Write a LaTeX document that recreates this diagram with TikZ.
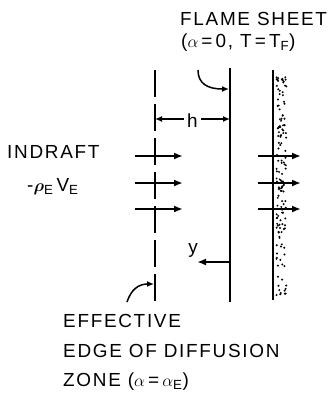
\documentclass[tikz,border=0pt]{standalone}
\usepackage{amsmath}
\usepackage{bm}
\usepackage{fontspec}
\setmainfont{Liberation Sans}[LetterSpace=9]
\usetikzlibrary{arrows.meta}

\begin{document}
\begin{tikzpicture}[x=1bp,y=-1bp,
  every node/.style={font=\fontsize{19}{22}\selectfont, inner sep=0pt},
  label/.style={anchor=base west},
  sheet/.style={line width=2.3bp},
  flow/.style={line width=1.8bp, -{Latex[length=9bp,width=7bp]}},
  leader/.style={line width=1.5bp, -{Latex[length=7bp,width=6bp]}},
  dim/.style={line width=1.5bp, {Latex[length=7bp,width=6bp]}-{Latex[length=7bp,width=6bp]}},
]
\useasboundingbox (0,0) rectangle (333,397);

% the three vertical lines
\coordinate (edge top) at (155,70);
\coordinate (edge bot) at (155,305);
\coordinate (flame top) at (230,68);
\coordinate (flame bot) at (230,302);
\coordinate (wall top) at (273,70);
\coordinate (wall bot) at (273,300);
\draw[sheet, dash pattern=on 27bp off 7bp] (edge top) -- (edge bot);
\draw[sheet] (flame top) -- (flame bot);
\draw[sheet] (wall top) -- (wall bot);

% stippled porous wall
\pgfmathsetseed{11}
\foreach \i in {1,...,140}
  \fill ({276.5+10*rnd},{76+220*rnd}) circle (1.1bp);

% indraft arrows
\foreach \yy in {156,183,209} {
  \coordinate (in a) at (135,\yy);
  \coordinate (in b) at (183,\yy);
  \coordinate (out a) at (258,\yy);
  \coordinate (out b) at (301,\yy);
  \draw[flow] (in a) -- (in b);
  \draw[flow] (out a) -- (out b);
}

% distance h
\coordinate (h left) at (155,119);
\coordinate (h right) at (230,119);
\draw[dim] (h left) -- node[fill=white, inner xsep=3bp, yshift=-2bp] (hlab) {h} (h right);

% y axis
\coordinate (y start) at (230,262);
\coordinate (y end) at (197,262);
\draw[flow] (y start) -- (y end);
\node (ylab) at (193,250) {y};

% labels
\node[label] (flame) at (180,25) {FLAME SHEET};
\node[label] (flamecond) at (181,47) {(\(\alpha\)\,=\,0, T\,=\,T\textsubscript{F})};
\node[label] (indraft) at (7,158) {INDRAFT};
\node[label] (indraftval) at (27,191) {-\(\bm{\rho}\)\textsubscript{E}\,V\textsubscript{E}};
\node[label] (eff1) at (63,327) {EFFECTIVE};
\node[label] (eff2) at (63,357) {EDGE OF DIFFUSION};
\node[label] (eff3) at (63,386) {ZONE (\(\alpha\)\,=\,\(\alpha\)\textsubscript{E})};

% leaders
\coordinate (flame lead) at (198,70);
\coordinate (flame hit) at (229,89);
\draw[leader] (flame lead) .. controls (198,84) and (208,89) .. (flame hit);
\coordinate (edge lead) at (127,302);
\coordinate (edge hit) at (154,284);
\draw[leader] (edge lead) .. controls (131,290) and (138,284) .. (edge hit);
\end{tikzpicture}
\end{document}
